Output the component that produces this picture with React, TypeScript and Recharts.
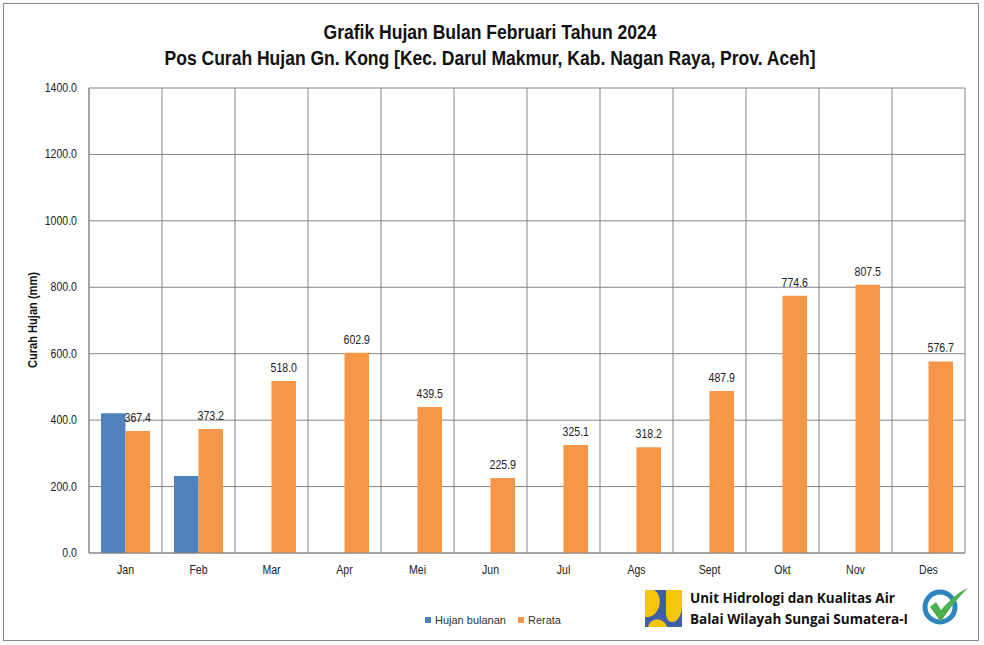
import React from "react";
import { BarChart, Bar, XAxis, YAxis, CartesianGrid, LabelList, Legend } from "recharts";

const months = ["Jan","Feb","Mar","Apr","Mei","Jun","Jul","Ags","Sept","Okt","Nov","Des"];
const hujanBulanan: (number|null)[] = [421,232,null,null,null,null,null,null,null,null,null,null];
const rerata = [367.4,373.2,518.0,602.9,439.5,225.9,325.1,318.2,487.9,774.6,807.5,576.7];
const yTicks = [0,200,400,600,800,1000,1200,1400];
const titleLines = ["Grafik Hujan Bulan Februari Tahun 2024","Pos Curah Hujan Gn. Kong [Kec. Darul Makmur, Kab. Nagan Raya, Prov. Aceh]"];
const orgLines = ["Unit Hidrologi dan Kualitas Air","Balai Wilayah Sungai Sumatera-I"];

const data = months.map((m,i)=>({month:m,hujan:hujanBulanan[i],rerata:rerata[i]}));
const GRID = "#868686";
const FONT = "'Liberation Sans', Arial, sans-serif";
const NARROW = 0.88;

const XTick = ({x,y,payload}:any) => (
  <text transform={`translate(${x},${y+9}) scale(${NARROW},1)`} textAnchor="middle" fontFamily={FONT} fontSize={12} fill="#222">{payload.value}</text>
);
const YTick = ({x,y,payload}:any) => (
  <text transform={`translate(${x},${y+4}) scale(${NARROW},1)`} textAnchor="end" fontFamily={FONT} fontSize={12} fill="#222">{payload.value.toFixed(1)}</text>
);
const ValueLabel = ({x,y,width,value}:any) => (
  <text transform={`translate(${x+width/2},${y-9}) scale(${NARROW},1)`} textAnchor="middle" fontFamily={FONT} fontSize={12} fill="#222">{Number(value).toFixed(1)}</text>
);

const LegendContent = () => (
  <div style={{display:"flex",fontFamily:FONT,fontSize:11,color:"#333"}}>
    {[["Hujan bulanan","#4f81bd"],["Rerata","#f79646"]].map(([n,c])=>(
      <div key={n} style={{display:"flex",alignItems:"center",marginRight:12}}>
        <span style={{width:6,height:6,background:c,marginRight:4,display:"inline-block"}}/>
        {n}
      </div>
    ))}
  </div>
);

export default function App(){
  return (
    <div style={{position:"absolute",left:0,top:0,width:984,height:645,background:"#fff",overflow:"hidden"}}>
      <div style={{position:"absolute",left:3,top:3,width:974,height:636,border:"1.5px solid #868686",boxSizing:"content-box"}}/>
      <BarChart width={984} height={645} data={data} barSize={24.5} barGap={0}
        margin={{top:88,left:29,right:19,bottom:38}} style={{position:"absolute",left:0,top:0}}>
        <CartesianGrid stroke={GRID} strokeWidth={1}
          verticalCoordinatesGenerator={({offset}:any)=>months.map((_,i)=>offset.left+(i+1)*offset.width/12).concat(offset.left)} />
        <XAxis dataKey="month" tick={<XTick/>} tickLine={false} axisLine={{stroke:GRID}} tickMargin={6} height={40} interval={0}/>
        <YAxis domain={[0,1400]} ticks={yTicks} tick={<YTick/>} tickLine={false} axisLine={{stroke:GRID}} width={60} tickMargin={6} interval={0}/>
        <Legend verticalAlign="bottom" content={<LegendContent/>} height={0}
          wrapperStyle={{position:"absolute",left:425,top:614,width:170,height:14,bottom:"auto"}}/>
        <Bar dataKey="hujan" fill="#4f81bd" isAnimationActive={false}/>
        <Bar dataKey="rerata" fill="#f79646" isAnimationActive={false}>
          <LabelList dataKey="rerata" content={<ValueLabel/>}/>
        </Bar>
      </BarChart>
      <svg width={984} height={645} style={{position:"absolute",left:0,top:0,pointerEvents:"none"}}>
        {titleLines.map((t,i)=>(
          <text key={t} x={490} y={39+i*26} textAnchor="middle" fontFamily={FONT} fontWeight={700} fontSize={20} fill="#111"
            textLength={i===0?333:651} lengthAdjust="spacingAndGlyphs">{t}</text>
        ))}
        <text transform="translate(37,320) rotate(-90)" textAnchor="middle" fontFamily={FONT} fontWeight={700} fontSize={12} fill="#111"
          textLength={96} lengthAdjust="spacingAndGlyphs">Curah Hujan (mm)</text>
        <rect x={645} y={590} width={37} height={37} fill="#3f5fa8"/>
        <path d="M645 590 H654 C662 594 662 610 652 616 C650 617 647 617 645 617 Z" fill="#f5c60d"/>
        <path d="M666 590 H682 V606 C682 614 678 622 672 622 C668 622 666 618 666 612 Z" fill="#f5c60d"/>
        <path d="M648 627 C650 617 664 617 667 627 Z" fill="#f5c60d"/>
        {orgLines.map((t,i)=>(
          <text key={t} x={690} y={603+i*20.5} fontFamily="'Open Sans', sans-serif" fontWeight={700} fontSize={13.5} fill="#111">{t}</text>
        ))}
        <circle cx={940} cy={607} r={15} fill="none" stroke="#2e86c1" strokeWidth={5}/>
        <path d="M930 607 L936 602 L941 610 C950 600 958 592 968 588 C958 598 948 610 941 622 Z" fill="#4caf50"/>
      </svg>
    </div>
  );
}
